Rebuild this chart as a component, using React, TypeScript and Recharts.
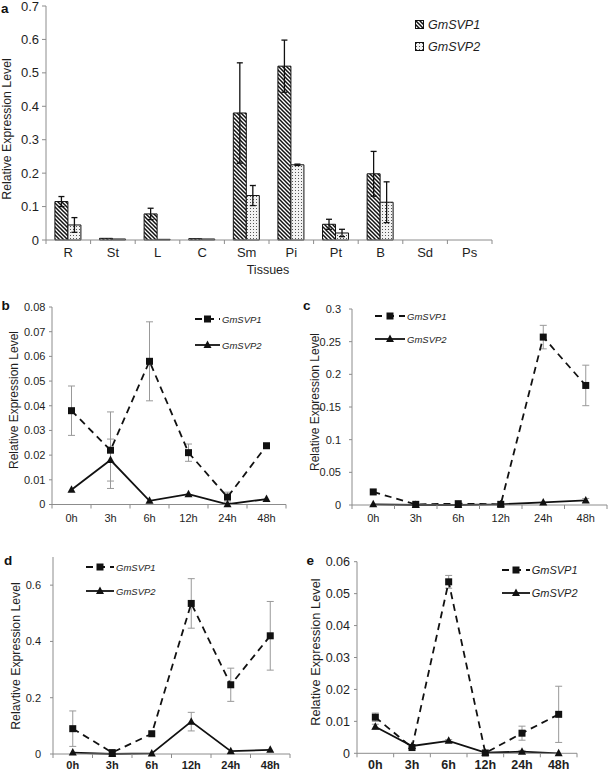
import React from "react"
import { BarChart, Bar, LineChart, Line, XAxis, YAxis, ErrorBar, Legend } from "recharts"

const font = '"Liberation Sans", Arial, Helvetica, sans-serif'
const axisGray = "#8c8c8c"
const ink = "#1e1e1e"

// panel a: tissues
const tissues = ["R", "St", "L", "C", "Sm", "Pi", "Pt", "B", "Sd", "Ps"]
const tissueSvp1 = [0.115, 0.005, 0.078, 0.004, 0.38, 0.52, 0.047, 0.198, 0, 0]
const tissueSvp1Err = [0.015, 0, 0.017, 0, 0.15, 0.078, 0.015, 0.067, 0, 0]
const tissueSvp2 = [0.045, 0.003, 0.002, 0.003, 0.133, 0.225, 0.021, 0.113, 0, 0]
const tissueSvp2Err = [0.022, 0, 0, 0, 0.03, 0.002, 0.011, 0.061, 0, 0]
const tissueTicks = [0, 0.1, 0.2, 0.3, 0.4, 0.5, 0.6, 0.7]

// panels b-e: time course
const hours = ["0h", "3h", "6h", "12h", "24h", "48h"]

const bSvp1 = [0.038, 0.022, 0.058, 0.021, 0.003, 0.0238]
const bSvp1Err = [0.01, 0.0155, 0.016, 0.0035, 0.002, 0]
const bSvp2 = [0.006, 0.018, 0.0015, 0.0042, 0.0001, 0.0022]
const bSvp2Err = [0, 0.0085, 0, 0, 0, 0]
const bTicks = [0, 0.01, 0.02, 0.03, 0.04, 0.05, 0.06, 0.07, 0.08]

const cSvp1 = [0.02, 0.001, 0.002, 0.001, 0.257, 0.183]
const cSvp1Err = [0, 0, 0, 0, 0.018, 0.031]
const cSvp2 = [0.001, 0, 0, 0.001, 0.004, 0.007]
const cSvp2Err = [0, 0, 0, 0, 0, 0.003]
const cTicks = [0, 0.05, 0.1, 0.15, 0.2, 0.25, 0.3]

const dSvp1 = [0.09, 0.005, 0.072, 0.535, 0.246, 0.42]
const dSvp1Err = [0.063, 0, 0, 0.088, 0.059, 0.122]
const dSvp2 = [0.005, 0, 0.002, 0.115, 0.01, 0.015]
const dSvp2Err = [0, 0, 0, 0.033, 0, 0]
const dTicks = [0, 0.2, 0.4, 0.6]

const eSvp1 = [0.0113, 0.0018, 0.0537, 0.0001, 0.0063, 0.0122]
const eSvp1Err = [0.0013, 0, 0.002, 0, 0.0022, 0.0088]
const eSvp2 = [0.0083, 0.0023, 0.0039, 0.0002, 0.0005, 0]
const eSvp2Err = [0.0008, 0, 0.0004, 0, 0.0004, 0]
const eTicks = [0, 0.01, 0.02, 0.03, 0.04, 0.05, 0.06]

// category label with tick marks on the band boundaries (Excel style)
function BandTick(props: any) {
  const { x, y, payload, half, last, gap, fontSize, bold } = props
  return (
    <g>
      <line x1={x - half} x2={x - half} y1={y} y2={y + 4} stroke={axisGray} />
      {payload.value === last && <line x1={x + half} x2={x + half} y1={y} y2={y + 4} stroke={axisGray} />}
      <text
        x={x}
        y={y + gap}
        dy="0.71em"
        textAnchor="middle"
        fontSize={fontSize}
        fontWeight={bold ? "bold" : "normal"}
        fontFamily={font}
        fill={ink}
      >
        {payload.value}
      </text>
    </g>
  )
}

function SquareDot({ cx, cy }: any) {
  if (cx == null || cy == null) return null
  return <rect x={cx - 3.5} y={cy - 3.5} width={7} height={7} fill="#111" />
}

function TriangleDot({ cx, cy }: any) {
  if (cx == null || cy == null) return null
  return <polygon points={`${cx},${cy - 4.5} ${cx + 4},${cy + 3} ${cx - 4},${cy + 3}`} fill="#111" />
}

function BarLegend({ payload }: any) {
  return (
    <div style={{ fontFamily: font, fontSize: 12.5, fontStyle: "italic", color: ink }}>
      {(payload ?? []).map((entry: any) => (
        <div key={entry.value} style={{ height: 21.7, display: "flex", alignItems: "center", whiteSpace: "nowrap" }}>
          <svg width={9} height={9}>
            <rect x={0.5} y={0.5} width={8} height={8} fill={entry.color} stroke="#111" />
          </svg>
          <span style={{ marginLeft: 4 }}>{entry.value}</span>
        </div>
      ))}
    </div>
  )
}

function TimeLegend({ payload, rowH, lineW, fontSize }: any) {
  return (
    <div style={{ fontFamily: font, fontSize, fontStyle: "italic", color: ink }}>
      {(payload ?? []).map((entry: any) => (
        <div key={entry.value} style={{ height: rowH, display: "flex", alignItems: "center", whiteSpace: "nowrap" }}>
          <svg width={lineW} height={10}>
            <line
              x1={0}
              x2={lineW}
              y1={5}
              y2={5}
              stroke="#111"
              strokeWidth={1.8}
              strokeDasharray={entry.payload?.strokeDasharray}
            />
            {entry.dataKey === "svp1" ? <SquareDot cx={lineW / 2} cy={5} /> : <TriangleDot cx={lineW / 2} cy={5} />}
          </svg>
          <span style={{ marginLeft: 2 }}>{entry.value}</span>
        </div>
      ))}
    </div>
  )
}

function rotatedLabel(text: string, x: number, y: number, size: number) {
  return () => (
    <text
      transform={`translate(${x},${y}) rotate(-90)`}
      textAnchor="middle"
      dominantBaseline="central"
      fontSize={size}
      fontFamily={font}
      fill={ink}
    >
      {text}
    </text>
  )
}

function TissueChart() {
  const data = tissues.map((name, i) => ({
    name,
    svp1: tissueSvp1[i],
    svp1Err: tissueSvp1Err[i],
    svp2: tissueSvp2[i],
    svp2Err: tissueSvp2Err[i],
  }))
  const plotW = 446
  return (
    <div style={{ position: "absolute", left: 0, top: 0 }}>
      <BarChart
        width={609}
        height={280}
        data={data}
        margin={{ top: 6, right: 609 - 46 - plotW, bottom: 0, left: 0 }}
        barCategoryGap="20%"
        barGap={0}
      >
        <defs>
          <pattern id="hatchSvp1" patternUnits="userSpaceOnUse" width={4} height={4}>
            <rect width={4} height={4} fill="#fff" />
            <path d="M-1,-1 L5,5 M-1,3 L1,5 M3,-1 L5,1" stroke="#111" strokeWidth={1.5} />
          </pattern>
          <pattern id="dotsSvp2" patternUnits="userSpaceOnUse" width={3} height={3}>
            <rect width={3} height={3} fill="#f2f2f2" />
            <rect x={1} y={1} width={1} height={1} fill="#555" />
          </pattern>
        </defs>
        <XAxis
          dataKey="name"
          height={40}
          interval={0}
          axisLine={{ stroke: axisGray }}
          tickLine={false}
          tickSize={0}
          tickMargin={0}
          tick={<BandTick half={plotW / 20} last="Ps" gap={8} fontSize={13} />}
          label={() => (
            <text x={268} y={270} textAnchor="middle" dominantBaseline="central" fontSize={12.5} fontFamily={font} fill={ink}>
              Tissues
            </text>
          )}
        />
        <YAxis
          width={46}
          domain={[0, 0.7]}
          ticks={tissueTicks}
          interval={0}
          axisLine={{ stroke: axisGray }}
          tickLine={{ stroke: axisGray }}
          tickSize={4}
          tickMargin={3}
          tick={{ fontSize: 13, fontFamily: font, fill: ink }}
          label={rotatedLabel("Relative Expression Level", 7, 129, 12.3)}
        />
        <Legend
          layout="vertical"
          align="center"
          verticalAlign="middle"
          wrapperStyle={{ left: 415, top: 14, width: "auto" }}
          content={<BarLegend />}
        />
        <Bar dataKey="svp1" name="GmSVP1" fill="url(#hatchSvp1)" stroke="#111" strokeWidth={1} isAnimationActive={false}>
          <ErrorBar dataKey="svp1Err" width={3} stroke="#111" strokeWidth={1.3} />
        </Bar>
        <Bar dataKey="svp2" name="GmSVP2" fill="url(#dotsSvp2)" stroke="#111" strokeWidth={1} isAnimationActive={false}>
          <ErrorBar dataKey="svp2Err" width={3} stroke="#111" strokeWidth={1.3} />
        </Bar>
      </BarChart>
    </div>
  )
}

type PanelProps = {
  left: number
  top: number
  width: number
  height: number
  s1: number[]
  e1: number[]
  s2: number[]
  e2: number[]
  yMax: number
  yTicks: number[]
  plotTop: number
  plotH: number
  yW: number
  plotW: number
  tickMargin: number
  tickFont: number
  xGap: number
  yLabel: string
  yLabelX: number
  yLabelY: number
  yLabelSize: number
  legendLeft: number
  legendTop: number
  legendFont: number
  rowH: number
  lineW: number
  boldX?: boolean
}

function TimePanel(p: PanelProps) {
  const data = hours.map((t, i) => ({ t, svp1: p.s1[i], err1: p.e1[i], svp2: p.s2[i], err2: p.e2[i] }))
  const half = p.plotW / 12
  return (
    <div style={{ position: "absolute", left: p.left, top: p.top }}>
      <LineChart
        width={p.width}
        height={p.height}
        data={data}
        margin={{ top: p.plotTop, right: p.width - p.yW - p.plotW, bottom: 0, left: 0 }}
      >
        <XAxis
          dataKey="t"
          scale="point"
          padding={{ left: half, right: half }}
          height={p.height - p.plotTop - p.plotH}
          interval={0}
          axisLine={{ stroke: axisGray }}
          tickLine={false}
          tickSize={0}
          tickMargin={0}
          tick={<BandTick half={half} last="48h" gap={p.xGap} fontSize={p.tickFont} bold={p.boldX} />}
        />
        <YAxis
          width={p.yW}
          domain={[0, p.yMax]}
          ticks={p.yTicks}
          interval={0}
          axisLine={{ stroke: axisGray }}
          tickLine={{ stroke: axisGray }}
          tickSize={3}
          tickMargin={p.tickMargin}
          tick={{ fontSize: p.tickFont, fontFamily: font, fill: ink }}
          label={rotatedLabel(p.yLabel, p.yLabelX, p.yLabelY, p.yLabelSize)}
        />
        <Legend
          layout="vertical"
          align="center"
          verticalAlign="middle"
          wrapperStyle={{ left: p.legendLeft, top: p.legendTop, width: "auto" }}
          content={<TimeLegend rowH={p.rowH} lineW={p.lineW} fontSize={p.legendFont} />}
        />
        <Line
          dataKey="svp1"
          name="GmSVP1"
          stroke="#111"
          strokeWidth={1.8}
          strokeDasharray="7 5"
          dot={<SquareDot />}
          activeDot={false}
          isAnimationActive={false}
        >
          <ErrorBar dataKey="err1" width={3.5} stroke="#999" strokeWidth={1} />
        </Line>
        <Line
          dataKey="svp2"
          name="GmSVP2"
          stroke="#111"
          strokeWidth={1.8}
          dot={<TriangleDot />}
          activeDot={false}
          isAnimationActive={false}
        >
          <ErrorBar dataKey="err2" width={3.5} stroke="#999" strokeWidth={1} />
        </Line>
      </LineChart>
    </div>
  )
}

export default function App() {
  return (
    <div style={{ position: "absolute", left: 0, top: 0, width: 609, height: 772, background: "#fff", fontFamily: font }}>
      <TissueChart />
      <TimePanel
        left={0} top={300} width={300} height={230}
        s1={bSvp1} e1={bSvp1Err} s2={bSvp2} e2={bSvp2Err}
        yMax={0.08} yTicks={bTicks} plotTop={7} plotH={197.5} yW={52} plotW={234} tickMargin={3.6}
        tickFont={11} xGap={9.5}
        yLabel="Relative Expression Level" yLabelX={14} yLabelY={100} yLabelSize={12}
        legendLeft={195} legendTop={6} legendFont={9.5} rowH={26} lineW={25}
      />
      <TimePanel
        left={300} top={300} width={309} height={230}
        s1={cSvp1} e1={cSvp1Err} s2={cSvp2} e2={cSvp2Err}
        yMax={0.3} yTicks={cTicks} plotTop={9} plotH={196} yW={52} plotW={255} tickMargin={8}
        tickFont={11} xGap={9.5}
        yLabel="Relative Expression Level" yLabelX={15} yLabelY={102} yLabelSize={12}
        legendLeft={75} legendTop={4.5} legendFont={9.5} rowH={23.3} lineW={30}
      />
      <TimePanel
        left={0} top={530} width={300} height={242}
        s1={dSvp1} e1={dSvp1Err} s2={dSvp2} e2={dSvp2Err}
        yMax={0.7} yTicks={dTicks} plotTop={27} plotH={197} yW={53} plotW={237} tickMargin={9}
        tickFont={11} xGap={7}
        yLabel="Relavtive Expression Level" yLabelX={16} yLabelY={126} yLabelSize={12.3}
        legendLeft={86} legendTop={25.5} legendFont={9.5} rowH={23.7} lineW={28} boldX
      />
      <TimePanel
        left={300} top={530} width={309} height={242}
        s1={eSvp1} e1={eSvp1Err} s2={eSvp2} e2={eSvp2Err}
        yMax={0.06} yTicks={eTicks} plotTop={31.7} plotH={191.6} yW={57} plotW={220} tickMargin={4}
        tickFont={12.5} xGap={6.5}
        yLabel="Relative Expression Level" yLabelX={15} yLabelY={122} yLabelSize={12.8}
        legendLeft={201.7} legendTop={28.7} legendFont={11} rowH={22.7} lineW={28} boldX
      />
      <svg width={609} height={772} style={{ position: "absolute", left: 0, top: 0, pointerEvents: "none" }}>
        <g fontFamily={font} fontWeight="bold" fontSize={13.5} fill="#111">
          <text x={1} y={13}>a</text>
          <text x={1.5} y={310}>b</text>
          <text x={303} y={310}>c</text>
          <text x={4} y={565}>d</text>
          <text x={306.5} y={565}>e</text>
        </g>
      </svg>
    </div>
  )
}
